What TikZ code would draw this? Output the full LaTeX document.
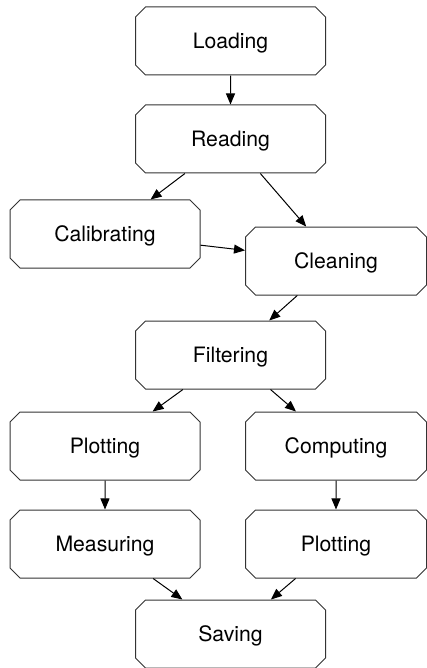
\documentclass[tikz,border=0pt]{standalone}
\usepackage{fontspec}
\setmainfont{TeX Gyre Heros}
\usetikzlibrary{shapes.misc,arrows.meta}
\begin{document}
\begin{tikzpicture}[x=1pt,y=-1pt,
  stage/.style={chamfered rectangle, chamfered rectangle xsep=5pt, chamfered rectangle ysep=5pt,
    draw=black!80, line width=1pt, fill=white, minimum width=190pt, minimum height=68pt, inner sep=0pt,
    text depth=0pt, text height=15pt,
    font=\fontsize{21.2}{24}\selectfont},
  narrow/.style={minimum width=181pt},
  flow/.style={draw=black, line width=1pt, -{Triangle[length=11pt,width=9pt]}}]
\useasboundingbox (0,0) rectangle (427,668);
\node[stage] (load) at (230.5,41) {Loading};
\node[stage] (read) at (230.5,139) {Reading};
\node[stage] (cal) at (105,234) {Calibrating};
\node[stage,narrow] (clean) at (336,261) {Cleaning};
\node[stage] (filt) at (230.5,355) {Filtering};
\node[stage] (plot) at (105,446) {Plotting};
\node[stage,narrow] (comp) at (336,446) {Computing};
\node[stage] (meas) at (105,544) {Measuring};
\node[stage,narrow] (plot2) at (336,544) {Plotting};
\node[stage] (save) at (230.5,634) {Saving};
\draw[flow] (load) -- (read);
\draw[flow] (read) -- (cal);
\draw[flow] (read) -- (clean);
\draw[flow] (cal) -- (clean);
\draw[flow] (clean) -- (filt);
\draw[flow] (filt) -- (plot);
\draw[flow] (filt) -- (comp);
\draw[flow] (plot) -- (meas);
\draw[flow] (comp) -- (plot2);
\draw[flow] (meas) -- (save);
\draw[flow] (plot2) -- (save);
\end{tikzpicture}
\end{document}
